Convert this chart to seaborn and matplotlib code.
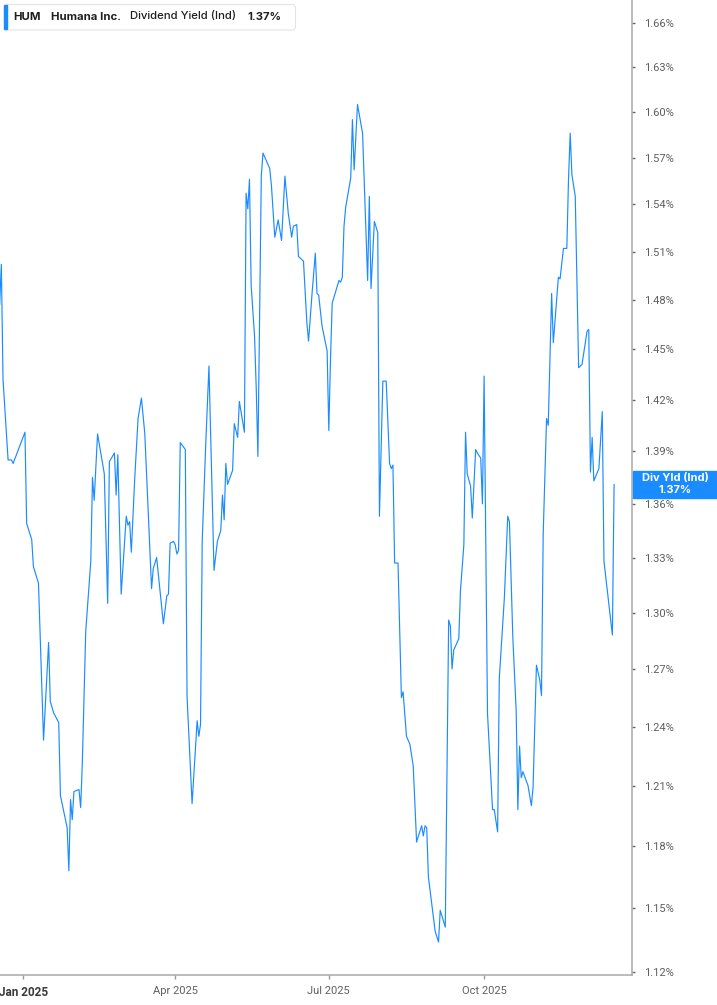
"""HUM dividend yield (indicated) over 2025, drawn as a stock-style chart."""

import matplotlib.pyplot as plt
import pandas as pd
import seaborn as sns
from matplotlib.patches import FancyBboxPatch, Rectangle
from matplotlib.ticker import FixedLocator, FuncFormatter, NullLocator

DATES = [
    "2024-12-18", "2024-12-19", "2024-12-20", "2024-12-23", "2024-12-25",
    "2024-12-26", "2025-01-02", "2025-01-03", "2025-01-06", "2025-01-07",
    "2025-01-09", "2025-01-10", "2025-01-13", "2025-01-16", "2025-01-17",
    "2025-01-19", "2025-01-22", "2025-01-23", "2025-01-27", "2025-01-28",
    "2025-01-29", "2025-01-30", "2025-01-31", "2025-02-03", "2025-02-04",
    "2025-02-05", "2025-02-07", "2025-02-10", "2025-02-11", "2025-02-12",
    "2025-02-14", "2025-02-18", "2025-02-20", "2025-02-21", "2025-02-24",
    "2025-02-25", "2025-02-26", "2025-02-28", "2025-03-03", "2025-03-04",
    "2025-03-05", "2025-03-06", "2025-03-08", "2025-03-10", "2025-03-12",
    "2025-03-14", "2025-03-18", "2025-03-19", "2025-03-21", "2025-03-25",
    "2025-03-27", "2025-03-28", "2025-03-29", "2025-03-31", "2025-04-01",
    "2025-04-02", "2025-04-03", "2025-04-04", "2025-04-07", "2025-04-08",
    "2025-04-11", "2025-04-14", "2025-04-15", "2025-04-16", "2025-04-17",
    "2025-04-19", "2025-04-21", "2025-04-23", "2025-04-24", "2025-04-26",
    "2025-04-28", "2025-04-29", "2025-04-30", "2025-05-01", "2025-05-02",
    "2025-05-05", "2025-05-06", "2025-05-08", "2025-05-09", "2025-05-12",
    "2025-05-13", "2025-05-14", "2025-05-15", "2025-05-16", "2025-05-18",
    "2025-05-19", "2025-05-20", "2025-05-22", "2025-05-23", "2025-05-27",
    "2025-05-28", "2025-05-30", "2025-06-01", "2025-06-03", "2025-06-05",
    "2025-06-07", "2025-06-09", "2025-06-10", "2025-06-12", "2025-06-13",
    "2025-06-15", "2025-06-16", "2025-06-18", "2025-06-19", "2025-06-21",
    "2025-06-23", "2025-06-24", "2025-06-25", "2025-06-27", "2025-06-30",
    "2025-07-01", "2025-07-02", "2025-07-03", "2025-07-07", "2025-07-08",
    "2025-07-09", "2025-07-10", "2025-07-11", "2025-07-14", "2025-07-15",
    "2025-07-16", "2025-07-18", "2025-07-21", "2025-07-24", "2025-07-25",
    "2025-07-26", "2025-07-28", "2025-07-30", "2025-07-31", "2025-08-02",
    "2025-08-04", "2025-08-06", "2025-08-07", "2025-08-08", "2025-08-09",
    "2025-08-11", "2025-08-13", "2025-08-14", "2025-08-16", "2025-08-18",
    "2025-08-20", "2025-08-22", "2025-08-25", "2025-08-26", "2025-08-27",
    "2025-08-28", "2025-08-29", "2025-09-02", "2025-09-04", "2025-09-05",
    "2025-09-08", "2025-09-10", "2025-09-11", "2025-09-12", "2025-09-13",
    "2025-09-16", "2025-09-17", "2025-09-19", "2025-09-20", "2025-09-21",
    "2025-09-23", "2025-09-24", "2025-09-26", "2025-09-27", "2025-09-29",
    "2025-09-30", "2025-10-01", "2025-10-03", "2025-10-06", "2025-10-07",
    "2025-10-09", "2025-10-10", "2025-10-13", "2025-10-15", "2025-10-16",
    "2025-10-18", "2025-10-20", "2025-10-21", "2025-10-22", "2025-10-23",
    "2025-10-24", "2025-10-27", "2025-10-29", "2025-10-30", "2025-11-01",
    "2025-11-03", "2025-11-04", "2025-11-05", "2025-11-07", "2025-11-08",
    "2025-11-09", "2025-11-10", "2025-11-11", "2025-11-14", "2025-11-15",
    "2025-11-17", "2025-11-19", "2025-11-20", "2025-11-21", "2025-11-22",
    "2025-11-24", "2025-11-26", "2025-11-28", "2025-12-01", "2025-12-02",
    "2025-12-03", "2025-12-04", "2025-12-05", "2025-12-08", "2025-12-10",
    "2025-12-11", "2025-12-16", "2025-12-17",
]

YIELDS = [
    1.477, 1.502, 1.432, 1.385, 1.385, 1.383, 1.401, 1.349, 1.340, 1.325,
    1.319, 1.316, 1.233, 1.284, 1.253, 1.247, 1.242, 1.205, 1.189, 1.168,
    1.203, 1.193, 1.207, 1.208, 1.199, 1.222, 1.290, 1.328, 1.375, 1.362,
    1.400, 1.377, 1.305, 1.384, 1.389, 1.365, 1.388, 1.310, 1.353, 1.348,
    1.350, 1.333, 1.374, 1.409, 1.421, 1.400, 1.313, 1.324, 1.330, 1.294,
    1.309, 1.310, 1.338, 1.339, 1.337, 1.332, 1.334, 1.395, 1.391, 1.256,
    1.201, 1.243, 1.235, 1.241, 1.339, 1.392, 1.440, 1.360, 1.323, 1.339,
    1.345, 1.365, 1.351, 1.383, 1.371, 1.379, 1.406, 1.398, 1.419, 1.401,
    1.547, 1.537, 1.556, 1.489, 1.458, 1.427, 1.387, 1.558, 1.573, 1.563,
    1.552, 1.519, 1.530, 1.517, 1.558, 1.534, 1.519, 1.526, 1.527, 1.507,
    1.505, 1.504, 1.466, 1.455, 1.483, 1.509, 1.484, 1.483, 1.464, 1.449,
    1.402, 1.444, 1.478, 1.492, 1.491, 1.494, 1.526, 1.538, 1.557, 1.595,
    1.562, 1.605, 1.586, 1.492, 1.545, 1.487, 1.529, 1.522, 1.353, 1.431,
    1.431, 1.383, 1.380, 1.382, 1.327, 1.327, 1.255, 1.258, 1.235, 1.231,
    1.220, 1.182, 1.190, 1.185, 1.190, 1.189, 1.165, 1.139, 1.134, 1.149,
    1.141, 1.296, 1.293, 1.270, 1.280, 1.286, 1.312, 1.337, 1.401, 1.377,
    1.370, 1.352, 1.391, 1.389, 1.386, 1.360, 1.434, 1.247, 1.198, 1.198,
    1.187, 1.265, 1.308, 1.353, 1.350, 1.287, 1.248, 1.198, 1.230, 1.214,
    1.217, 1.210, 1.200, 1.209, 1.272, 1.264, 1.256, 1.343, 1.409, 1.405,
    1.443, 1.484, 1.454, 1.494, 1.493, 1.512, 1.512, 1.556, 1.586, 1.559,
    1.545, 1.439, 1.441, 1.461, 1.462, 1.378, 1.398, 1.373, 1.380, 1.413,
    1.328, 1.288, 1.371,
]

Y_TICKS = [1.12, 1.15, 1.18, 1.21, 1.24, 1.27, 1.30, 1.33, 1.36, 1.39,
           1.42, 1.45, 1.48, 1.51, 1.54, 1.57, 1.60, 1.63, 1.66]
X_TICKS = ["2025-01-01", "2025-04-01", "2025-07-01", "2025-10-01"]
X_LABELS = ["Jan 2025", "Apr 2025", "Jul 2025", "Oct 2025"]

TICKER = "HUM"
COMPANY = "Humana Inc."
METRIC = "Dividend Yield (Ind)"
SHORT_METRIC = "Div Yld (Ind)"

BLUE = "#1a8cff"
SPINE = "#a8a8a8"
W, H = 717, 1005


def main():
    sns.set_theme(style="white")
    plt.rcParams["font.family"] = ["Roboto", "DejaVu Sans"]

    df = pd.DataFrame({"date": pd.to_datetime(DATES), "yield": YIELDS})
    last = YIELDS[-1]

    fig = plt.figure(figsize=(W / 100, H / 100), dpi=100)
    ax = fig.add_axes([0, 1 - 974.5 / H, 632.3 / W, 974.5 / H])
    sns.lineplot(data=df, x="date", y="yield", ax=ax, estimator=None,
                 sort=False, color=BLUE, linewidth=0.85)

    # Axes
    ax.set_yscale("log")
    ax.set_ylim(1.1188, 1.6761)
    ax.set_xlim(pd.Timestamp("2024-12-18 05:00"),
                pd.Timestamp("2025-12-27 19:00"))
    ax.set(xlabel="", ylabel="")
    for side in ("top", "left"):
        ax.spines[side].set_visible(False)
    for side in ("right", "bottom"):
        ax.spines[side].set_color(SPINE)
        ax.spines[side].set_linewidth(1.1)
    ax.yaxis.tick_right()
    ax.yaxis.set_major_locator(FixedLocator(Y_TICKS))
    ax.yaxis.set_minor_locator(NullLocator())
    ax.yaxis.set_major_formatter(FuncFormatter(lambda v, _: f"{v:.2f}%"))
    ax.tick_params(axis="y", right=True, left=False, length=2.2, width=1,
                   color="#666666", pad=6, labelsize=8, labelcolor="#5f5f5f")
    ax.set_xticks(pd.to_datetime(X_TICKS))
    ax.set_xticklabels(X_LABELS)
    ax.tick_params(axis="x", bottom=True, length=3, width=1, color="#999999",
                   pad=5, labelsize=8, labelcolor="#5f5f5f")
    first = ax.get_xticklabels()[0]
    first.set_fontweight("bold")
    first.set_color("#3a3a3a")
    first.set_fontsize(8.5)
    ax.grid(False)

    # Legend box at top left
    fig.patches.append(FancyBboxPatch(
        (4.5 / W, 1 - 30 / H), 291 / W, 25.5 / H,
        boxstyle="round,pad=0,rounding_size=0.004", transform=fig.transFigure,
        fc="white", ec="#e4e4e4", lw=0.8, zorder=5))
    fig.patches.append(Rectangle((4 / W, 1 - 29.5 / H), 2.8 / W, 24.5 / H,
                                 transform=fig.transFigure, color=BLUE,
                                 zorder=6))
    yc = 1 - 16.5 / H
    font = ["Inter", "DejaVu Sans"]
    for xpos, txt, wt in [(13.3, TICKER, "bold"), (50.7, COMPANY, "bold"),
                          (130, METRIC, "medium"), (247.5, f"{last:.2f}%", "bold")]:
        fig.text(xpos / W, yc, txt, ha="left", va="center", fontsize=8.2,
                 fontweight=wt, color="#1f1f1f", family=font, zorder=7)

    # Current value tag on the right axis
    y_disp = ax.transData.transform((ax.get_xlim()[0], last))[1]
    y_fig = fig.transFigure.inverted().transform((0, y_disp))[1]
    fig.patches.append(Rectangle((633 / W, y_fig - 13.5 / H), 84 / W, 27 / H,
                                 transform=fig.transFigure, color=BLUE,
                                 zorder=5))
    fig.text(675 / W, y_fig + 6 / H, SHORT_METRIC, ha="center", va="center",
             fontsize=8, fontweight="bold", color="white", family=font,
             zorder=6)
    fig.text(675 / W, y_fig - 6 / H, f"{last:.2f}%", ha="center",
             va="center", fontsize=8, fontweight="bold", color="white",
             family=font, zorder=6)

    fig.savefig("out.png", dpi=100)


if __name__ == "__main__":
    main()
